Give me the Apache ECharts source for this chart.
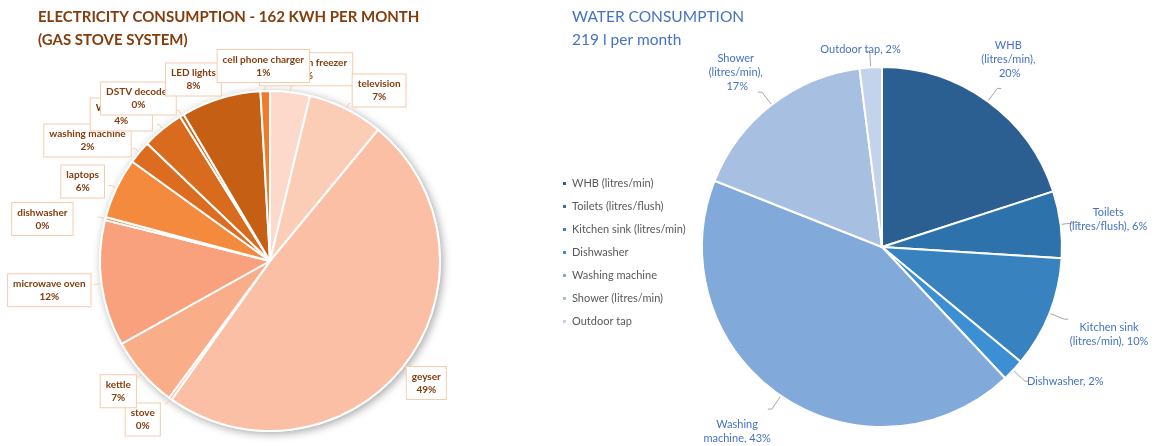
<!DOCTYPE html>
<html>
<head>
<meta charset="utf-8">
<script src="https://cdn.jsdelivr.net/npm/echarts@6/dist/echarts.min.js"></script>
<style>
  html, body { margin: 0; padding: 0; background: #fff; }
  #main { width: 1161px; height: 446px; }
</style>
</head>
<body>
<div id="main"></div>
<script>
// electricity, clockwise from 12 o'clock (share of 162 kWh, %)
const elecNames = ["fridge with freezer", "television", "geyser", "stove", "kettle", "microwave oven",
  "dishwasher", "laptops", "washing machine", "WiFi router", "DSTV decoder", "LED lights", "cell phone charger"];
const elecValues = [3.8, 7.2, 49.0, 0.3, 6.8, 12.0, 0.3, 5.8, 2.2, 4.0, 0.4, 7.6, 0.9];
const elecColors = ["#FDD9CB", "#FCCDB6", "#FBBFA5", "#F9B394", "#F9AD88", "#F9A07C",
  "#F69157", "#F38A3E", "#DC6C20", "#D96B1E", "#CF6419", "#C55F14", "#EE7A2A"];

// water, clockwise from 12 o'clock (share of 219 l, %)
const waterNames = ["WHB (litres/min)", "Toilets (litres/flush)", "Kitchen sink (litres/min)",
  "Dishwasher", "Washing machine", "Shower (litres/min)", "Outdoor tap"];
const waterLabels = ["WHB\n(litres/min),\n", "Toilets\n(litres/flush),", "Kitchen sink\n(litres/min),",
  "Dishwasher,", "Washing\nmachine,", "Shower\n(litres/min),\n", "Outdoor tap,"];
const waterValues = [20, 6, 10, 2, 43, 17, 2];
const waterColors = ["#2B5F91", "#2E72AC", "#3882C0", "#3D8FD4", "#81A9DA", "#A7BFE1", "#C3D3EC"];

// small label nudges (dx, dy) to mimic the spreadsheet's label placement
const elecNudge = [[-38, -17], [-3, -13], [-10, 15], [0, 16], [5, 14], [2, 6], [-20, 2],
  [0, -4], [3, -8], [0, -10], [4, -12], [9, -13], [51, -19]];
const waterNudge = [[-25, -29], [-10, -3], [-3, 15], [-7, 0], [8, 22], [10, -20], [40, -2]];

// wrap every line of a label in a centred rich-text style
const centred = (text, style) => text.split("\n").map(t => "{" + style + "|" + t + "}").join("\n");

const chart = echarts.init(document.getElementById("main"));

const option = {
  animation: false,
  title: [
    {
      text: "ELECTRICITY CONSUMPTION - 162 KWH PER MONTH\n(GAS STOVE SYSTEM)",
      left: 38, top: 6, padding: 0,
      textStyle: { fontFamily: "Lato", fontSize: 15, fontWeight: "bold", color: "#843C0C", lineHeight: 23 }
    },
    {
      text: "WATER CONSUMPTION\n219 l per month",
      left: 572, top: 5, padding: 0,
      textStyle: { fontFamily: "Lato", fontSize: 15.5, fontWeight: "normal", color: "#4472C4", lineHeight: 23 }
    }
  ],
  legend: {
    data: waterNames,
    orient: "vertical",
    left: 556, top: 173,
    icon: "rect", itemWidth: 5, itemHeight: 5, itemGap: 12,
    textStyle: { fontFamily: "Lato", fontSize: 11, color: "#595959" }
  },
  series: [
    {
      // soft shadow under the electricity pie
      type: "pie",
      silent: true,
      center: [270, 261], radius: 171,
      z: 1,
      label: { show: false }, labelLine: { show: false },
      itemStyle: { color: "#fff", shadowBlur: 8, shadowColor: "rgba(0,0,0,0.35)", shadowOffsetX: 2, shadowOffsetY: 2 },
      data: [{ value: 1, name: "_shadow" }]
    },
    {
      name: "Electricity",
      type: "pie",
      center: [270, 261], radius: 170,
      startAngle: 90, clockwise: true,
      avoidLabelOverlap: false,
      labelLayout: p => ({ hideOverlap: false, dx: elecNudge[p.dataIndex][0], dy: elecNudge[p.dataIndex][1] }),
      z: 2,
      itemStyle: { borderColor: "#fff", borderWidth: 2 },
      label: {
        position: "outside",
        overflow: "none",
        formatter: p => centred(p.name + "\n" + Math.round(p.percent) + "%", "e"),
        backgroundColor: "#fff", borderColor: "#F8CBAD", borderWidth: 1, padding: [3, 5],
        rich: {
          e: { align: "center", fontFamily: "Lato", fontSize: 10, fontWeight: "bold", color: "#843C0C", lineHeight: 13 }
        }
      },
      labelLine: { show: true, length: 6, length2: 2, lineStyle: { color: "#F8CBAD" } },
      data: elecNames.map((n, i) => ({ name: n, value: elecValues[i], itemStyle: { color: elecColors[i] } }))
    },
    {
      name: "Water",
      type: "pie",
      center: [882, 247], radius: 180,
      startAngle: 90, clockwise: true,
      labelLayout: p => ({ hideOverlap: false, dx: waterNudge[p.dataIndex][0], dy: waterNudge[p.dataIndex][1] }),
      itemStyle: { borderColor: "#fff", borderWidth: 2 },
      label: {
        position: "outside",
        overflow: "none",
        formatter: p => centred(waterLabels[p.dataIndex] + " " + Math.round(p.percent) + "%", "w"),
        rich: {
          w: { align: "center", fontFamily: "Lato", fontSize: 11, color: "#4472C4", lineHeight: 14 }
        }
      },
      labelLine: { show: true, length: 16, length2: 4, lineStyle: { color: "#A6A6A6" } },
      data: waterNames.map((n, i) => ({ name: n, value: waterValues[i], itemStyle: { color: waterColors[i] } }))
    }
  ]
};

chart.setOption(option);
</script>
</body>
</html>
